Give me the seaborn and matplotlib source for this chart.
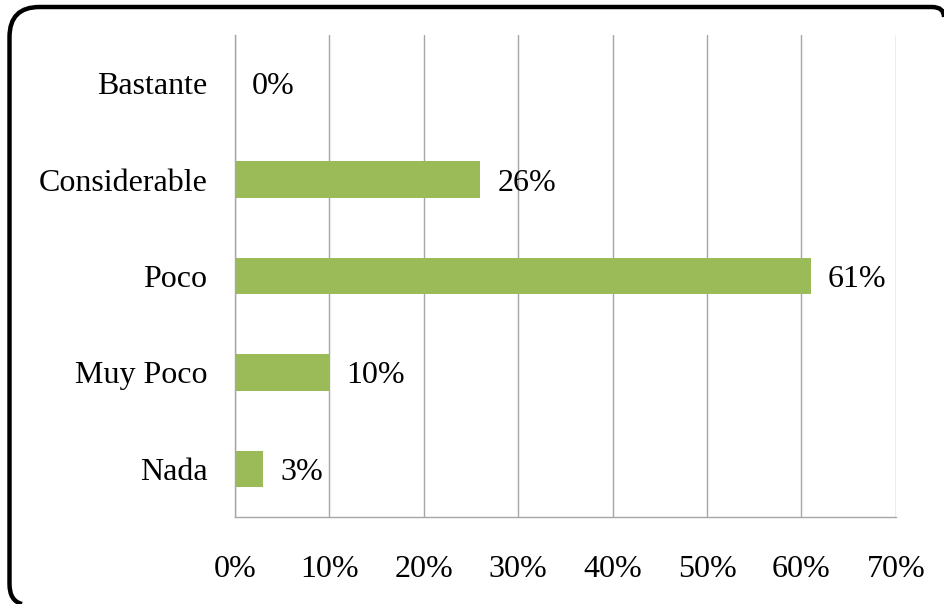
import matplotlib
matplotlib.use("Agg")
import matplotlib.pyplot as plt
import matplotlib.ticker as mticker
from matplotlib.patches import PathPatch
from matplotlib.path import Path
import pandas as pd
import seaborn as sns

sns.set_theme(style="white")
plt.rcParams["font.family"] = ["Liberation Serif", "DejaVu Serif"]

categorias = ["Bastante", "Considerable", "Poco", "Muy Poco", "Nada"]
porcentajes = [0, 26, 61, 10, 3]
ticks_x = [0, 10, 20, 30, 40, 50, 60, 70]

df = pd.DataFrame({"categoria": categorias, "porcentaje": porcentajes})

VERDE = "#9BBB59"
GRIS = "#A6A6A6"

fig = plt.figure(figsize=(9.44, 6.04), dpi=100)
ax = fig.add_axes([0.249, 0.144, 0.700, 0.798])

sns.barplot(data=df, x="porcentaje", y="categoria", order=categorias,
            color=VERDE, saturation=1, width=0.38, ax=ax)
for b in ax.patches:
    b.set_edgecolor("none")

etiquetas = ax.bar_label(ax.containers[0], labels=[f"{v}%" for v in porcentajes],
                         padding=12, fontsize=23, color="black")
for t in etiquetas:
    t.set_va("center_baseline")

ax.set_xlim(0, 70)
ax.set_xticks(ticks_x)
ax.xaxis.set_major_formatter(mticker.FuncFormatter(lambda x, _: f"{x:.0f}%"))
ax.set_xlabel("")
ax.set_ylabel("")
ax.tick_params(axis="x", length=0, pad=27, labelsize=23, colors="black")
ax.tick_params(axis="y", length=0, pad=20, labelsize=23, colors="black")

ax.grid(axis="x", color=GRIS, linewidth=1)
ax.grid(axis="y", visible=False)
ax.set_axisbelow(True)
for lado in ["top", "right"]:
    ax.spines[lado].set_visible(False)
for lado in ["left", "bottom"]:
    ax.spines[lado].set_color(GRIS)
    ax.spines[lado].set_linewidth(1)

# marco redondeado, recortado por el borde de la imagen (pulgadas)
x0, y1, r = 0.095, 5.97, 0.30
verts = [(0.22, 0.0), (x0, 0.03), (x0, 0.20),
         (x0, y1 - r), (x0, y1), (x0 + r, y1),
         (9.32, y1), (9.44, y1), (9.44, 5.87)]
codes = [Path.MOVETO, Path.CURVE3, Path.CURVE3,
         Path.LINETO, Path.CURVE3, Path.CURVE3,
         Path.LINETO, Path.CURVE3, Path.CURVE3]
marco = PathPatch(Path(verts, codes), transform=fig.dpi_scale_trans,
                  facecolor="none", edgecolor="black", linewidth=3.2,
                  clip_on=False)
fig.patches.append(marco)

fig.savefig("out.png", dpi=100)
